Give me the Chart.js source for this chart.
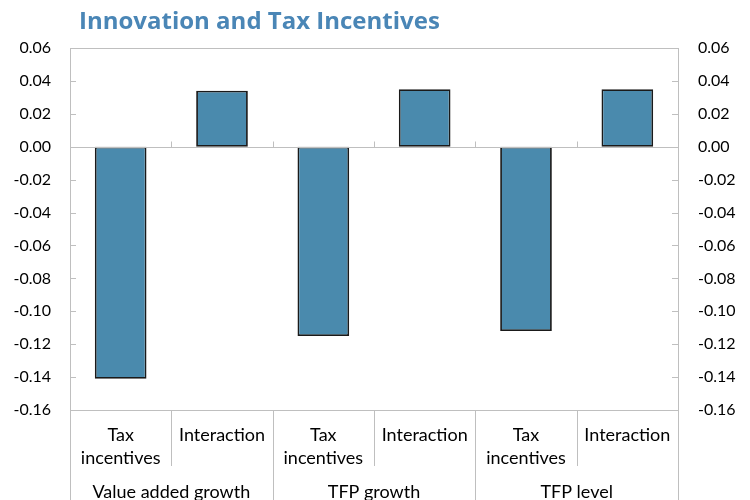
<!DOCTYPE html>
<html>
<head>
<meta charset="utf-8">
<script src="https://cdn.jsdelivr.net/npm/chart.js@4.4.1/dist/chart.umd.min.js"></script>
<style>
  html, body { margin: 0; padding: 0; background: #fff; }
  #wrap { width: 750px; height: 500px; position: relative; }
</style>
</head>
<body>
<div id="wrap"><canvas id="chart"></canvas></div>
<script>
// Estimated coefficients, grouped by outcome
const subLabels = [['Tax', 'incentives'], ['Interaction'], ['Tax', 'incentives'], ['Interaction'], ['Tax', 'incentives'], ['Interaction']];
const groupLabels = ['Value added growth', 'TFP growth', 'TFP level'];
const coefValues = [-0.141, 0.034, -0.115, 0.035, -0.112, 0.035];
const yMin = -0.16;
const yMax = 0.06;
const yStep = 0.02;

const titleText = 'Innovation and Tax Incentives';
const axisGray = '#bfbfbf';
const fontFamily = 'Lato, "Noto Sans", sans-serif';

function fmt(v) {
  const r = Math.round(v * 100) / 100;
  return (r === 0 ? 0 : r).toFixed(2);
}

// Frame, inside tick marks, zero line, category separators and group labels
const framePlugin = {
  id: 'frame',
  afterDatasetsDraw(chart) {
    const ctx = chart.ctx;
    const area = chart.chartArea;
    const x = chart.scales.x;
    const y = chart.scales.y;
    const n = subLabels.length;
    const step = x.getPixelForValue(1) - x.getPixelForValue(0);
    const boundary = i => x.getPixelForValue(0) + (i - 0.5) * step;
    const y0 = Math.round(y.getPixelForValue(0)) + 0.5;

    ctx.save();
    ctx.strokeStyle = axisGray;
    ctx.lineWidth = 1;

    // plot border
    ctx.strokeRect(Math.round(area.left) + 0.5, Math.round(area.top) + 0.5,
      Math.round(area.right - area.left), Math.round(area.bottom - area.top));

    // y ticks, pointing inward on both sides
    ctx.beginPath();
    y.ticks.forEach(t => {
      const py = Math.round(y.getPixelForValue(t.value)) + 0.5;
      ctx.moveTo(area.left, py); ctx.lineTo(area.left + 6, py);
      ctx.moveTo(area.right, py); ctx.lineTo(area.right - 6, py);
    });
    ctx.stroke();

    // zero line with category ticks
    ctx.beginPath();
    ctx.moveTo(area.left, y0); ctx.lineTo(area.right, y0);
    for (let i = 1; i < n; i++) {
      const bx = Math.round(boundary(i)) + 0.5;
      ctx.moveTo(bx, y0); ctx.lineTo(bx, y0 - 6);
    }
    ctx.stroke();

    // separators below the axis
    ctx.beginPath();
    for (let i = 0; i <= n; i++) {
      const bx = Math.round(boundary(i)) + 0.5;
      ctx.moveTo(bx, area.bottom);
      ctx.lineTo(bx, i % 2 === 0 ? chart.height : area.bottom + 56);
    }
    ctx.stroke();

    // group labels
    ctx.fillStyle = '#000';
    ctx.font = '18px ' + fontFamily;
    ctx.textAlign = 'center';
    ctx.textBaseline = 'middle';
    groupLabels.forEach((g, k) => {
      const cx = (boundary(2 * k) + boundary(2 * k + 2)) / 2;
      ctx.fillText(g, cx, area.bottom + 82);
    });

    // title
    ctx.fillStyle = '#4a86b6';
    ctx.font = 'bold 24px "Open Sans", ' + fontFamily;
    ctx.textAlign = 'left';
    ctx.fillText(titleText, 79, 22);
    ctx.restore();
  }
};

const yTicks = (padding) => ({
  stepSize: yStep,
  padding: padding,
  color: '#000',
  font: { family: fontFamily, size: 16 },
  callback: v => fmt(v)
});

new Chart(document.getElementById('chart'), {
  type: 'bar',
  data: {
    labels: subLabels,
    datasets: [{
      data: coefValues,
      backgroundColor: '#4a8aad',
      borderColor: '#1a1a1a',
      borderWidth: 1.8,
      borderSkipped: false,
      barPercentage: 0.51,
      categoryPercentage: 1
    }]
  },
  options: {
    responsive: true,
    maintainAspectRatio: false,
    animation: false,
    layout: { padding: { top: 48, left: 0, right: 0, bottom: 0 } },
    plugins: {
      legend: { display: false },
      tooltip: { enabled: false }
    },
    scales: {
      x: {
        grid: { display: false, drawTicks: false },
        border: { display: false },
        ticks: {
          color: '#000',
          padding: 14,
          maxRotation: 0,
          autoSkip: false,
          font: { family: fontFamily, size: 18, lineHeight: 1.25 }
        },
        afterFit: s => { s.height = 90; }
      },
      y: {
        min: yMin,
        max: yMax,
        grid: { display: false, drawTicks: false },
        border: { display: false },
        ticks: yTicks(19),
        afterFit: s => { s.width = 70; }
      },
      y2: {
        position: 'right',
        min: yMin,
        max: yMax,
        grid: { display: false, drawTicks: false },
        border: { display: false },
        ticks: yTicks(20),
        afterFit: s => { s.width = 72; }
      }
    }
  },
  plugins: [framePlugin]
});
</script>
</body>
</html>
